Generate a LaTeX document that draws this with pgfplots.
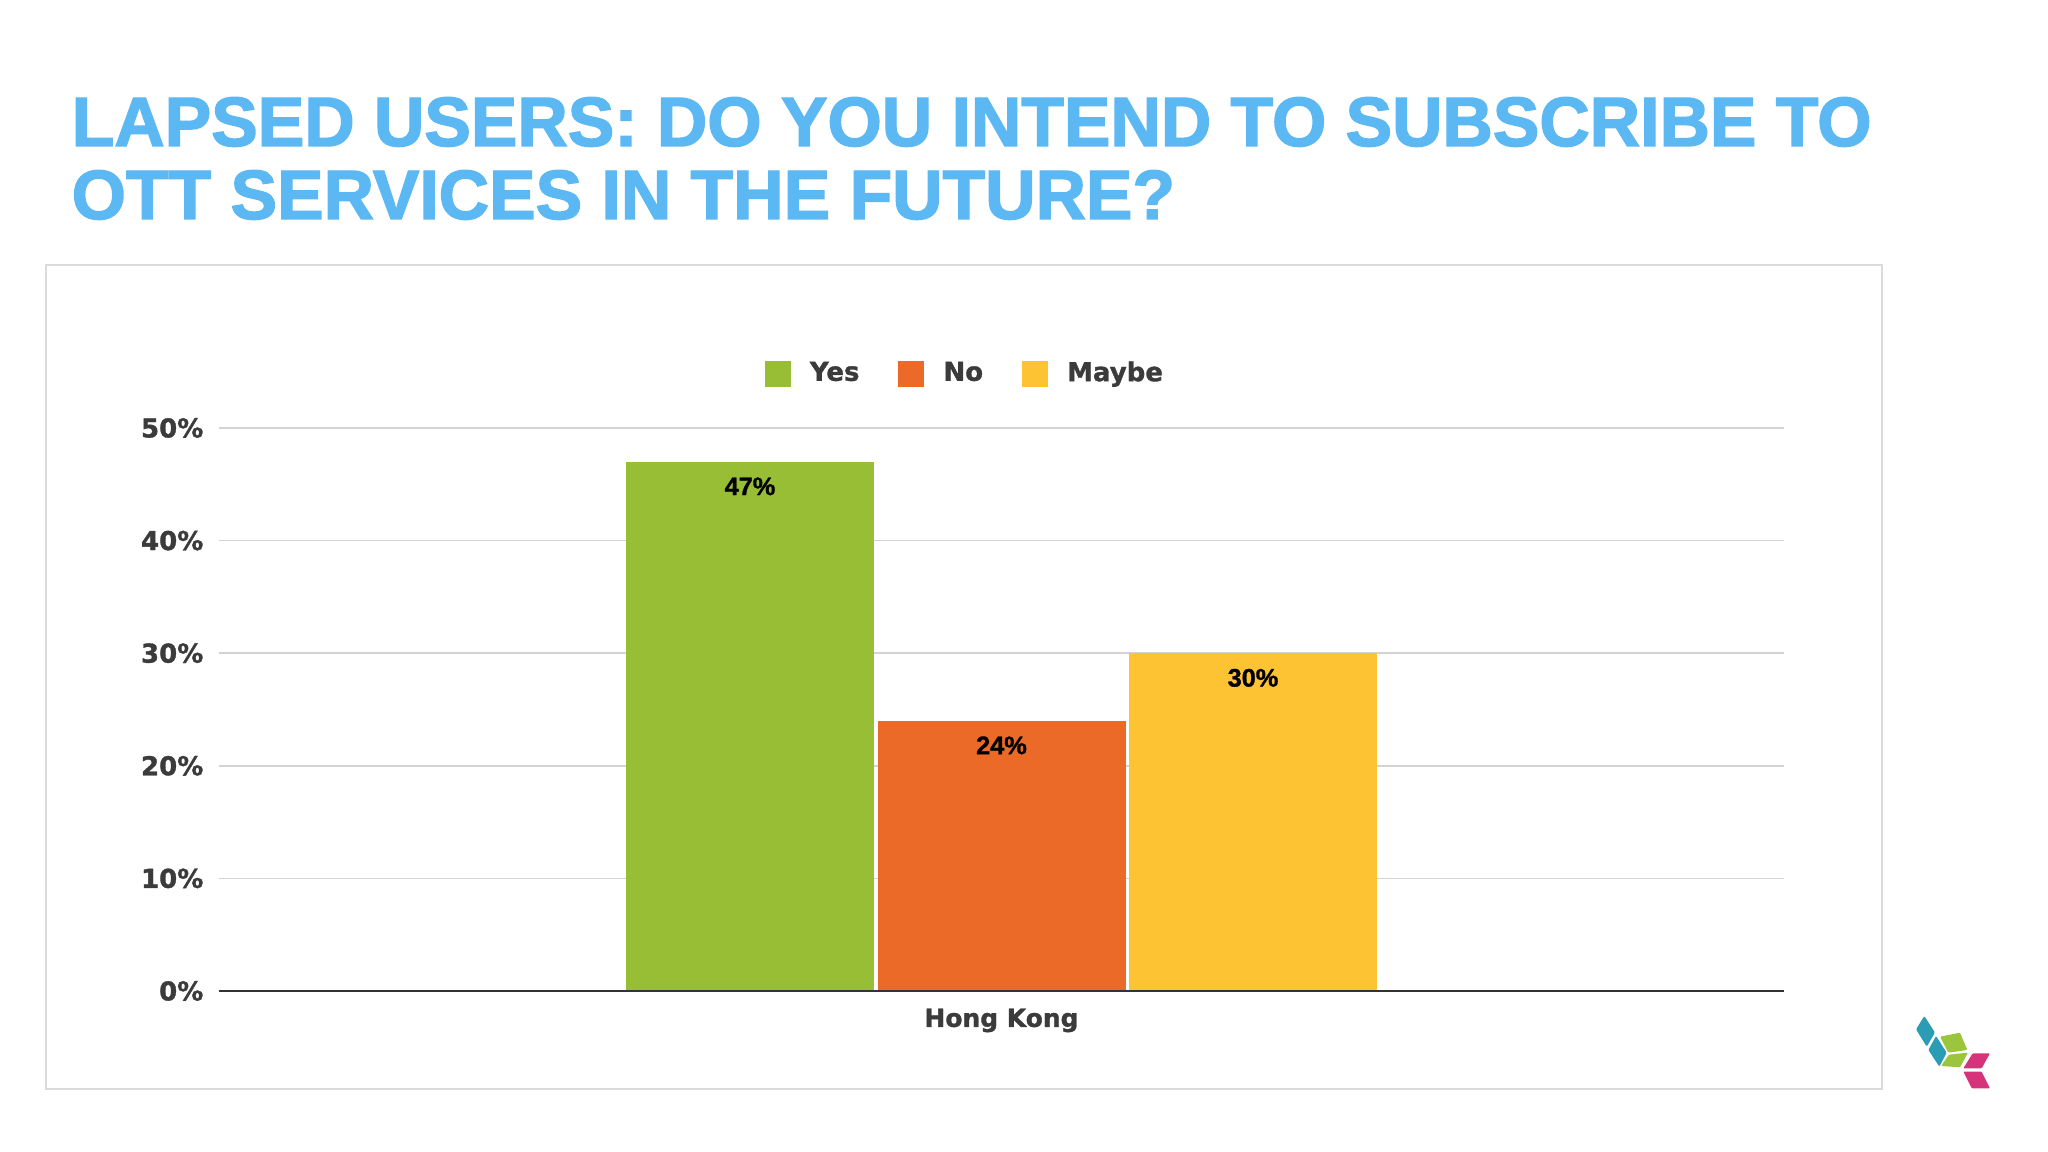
\documentclass[border=0pt]{standalone}
\usepackage{pgfplots}
\pgfplotsset{compat=1.18}
\usepackage{fontspec}
\setmainfont{Liberation Sans}
\newfontfamily\dvs{DejaVu Sans Bold}[FakeBold=1.2]
\newfontfamily\titlefont{Liberation Sans Bold}[FakeBold=2]
\newfontfamily\lblfont{Liberation Sans Bold}[FakeBold=1.2]
\definecolor{cYes}{HTML}{97BE34}
\definecolor{cNo}{HTML}{EC6A28}
\definecolor{cMay}{HTML}{FDC332}
\definecolor{textgray}{HTML}{3B3B3B}
\definecolor{gridgray}{HTML}{D3D3D3}
\definecolor{framegray}{HTML}{DADADA}
\definecolor{axisdark}{HTML}{333333}
\definecolor{titleblue}{HTML}{5CB8F2}
\definecolor{lteal}{HTML}{2A9DB5}
\definecolor{lgreen}{HTML}{9BC53D}
\definecolor{lpink}{HTML}{D6337A}
\begin{document}
\begin{tikzpicture}[x=0.1mm,y=0.1mm]
\fill[white] (0,0) rectangle (2048,1152);
\node[anchor=base west, inner sep=0pt, text=titleblue, font=\titlefont\fontsize{19.85}{24}\selectfont] at (71,1006) {LAPSED USERS: DO YOU INTEND TO SUBSCRIBE TO};
\node[anchor=base west, inner sep=0pt, text=titleblue, font=\titlefont\fontsize{19.85}{24}\selectfont] at (71,933) {OTT SERVICES IN THE FUTURE?};
\draw[framegray, line width=0.2mm] (46,63) rectangle (1882,887);
\begin{axis}[
  at={(21.9mm,16.1mm)}, anchor=south west,
  scale only axis, width=156.5mm, height=56.3mm,
  xmin=-1, xmax=1, ymin=0, ymax=50, clip=false,
  ybar,
  legend image code/.code={\fill[#1] (0mm,-1.3mm) rectangle (2.6mm,1.3mm);},
  bar width=24.8mm,
  axis line style={draw=none},
  major tick length=0pt,
  ymajorgrids, grid style={draw=gridgray, line width=0.15mm},
  ytick={0,10,20,30,40,50},
  yticklabels={0\%,10\%,20\%,30\%,40\%,50\%},
  xtick={0}, xticklabels={Hong Kong},
  yticklabel style={font=\dvs\fontsize{7.4}{9}\selectfont, text=textgray, inner sep=0pt, xshift=-1.5mm},
  xticklabel style={font=\dvs\fontsize{7.1}{9}\selectfont, text=textgray, inner sep=0pt, yshift=-1.7mm},
  legend style={at={(rel axis cs:0.476,1.096)}, anchor=center, draw=none, fill=none,
    inner sep=0pt, outer sep=0pt,
    font=\dvs\fontsize{7.4}{9}\selectfont, text=textgray,
    nodes={inner sep=0pt},
    /tikz/every odd column/.append style={column sep=1.9mm},
    /tikz/every even column/.append style={column sep=3.9mm}},
  legend columns=3,
  barlab/.style={nodes near coords, point meta=explicit symbolic,
    every node near coord/.append style={anchor=north, yshift=-1.5mm, inner sep=0pt,
      font=\lblfont\fontsize{7.2}{9}\selectfont, text=black}},
]
\addplot[fill=cYes, draw=none, bar shift=-25.15mm, barlab] coordinates {(0,47) [47\%]};
\addlegendentry{Yes}
\addplot[fill=cNo, draw=none, bar shift=0mm, barlab] coordinates {(0,24) [24\%]};
\addlegendentry{No}
\addplot[fill=cMay, draw=none, bar shift=25.15mm, barlab] coordinates {(0,30) [30\%]};
\addlegendentry{Maybe}
\addplot[forget plot, sharp plot, draw=axisdark, line width=0.25mm, mark=none] coordinates {(-1,0) (1,0)};
\end{axis}
\begin{scope}[shift={(1880,162)}, xscale=0.3333, yscale=-0.3333]
\fill[lteal, rounded corners=0.3pt] (108,118) -- (133,78) -- (165,128) -- (140,170) -- cycle;
\fill[lteal, rounded corners=0.3pt] (145,180) -- (168,138) -- (200,188) -- (178,230) -- cycle;
\fill[lgreen, rounded corners=0.3pt] (180,140) -- (240,128) -- (262,180) -- (205,188) -- cycle;
\fill[lgreen, rounded corners=0.3pt] (183,228) -- (207,194) -- (264,188) -- (240,232) -- cycle;
\fill[lpink, rounded corners=0.3pt] (250,235) -- (278,190) -- (330,190) -- (305,235) -- cycle;
\fill[lpink, rounded corners=0.3pt] (250,245) -- (305,245) -- (330,295) -- (275,295) -- cycle;
\end{scope}
\end{tikzpicture}
\end{document}
